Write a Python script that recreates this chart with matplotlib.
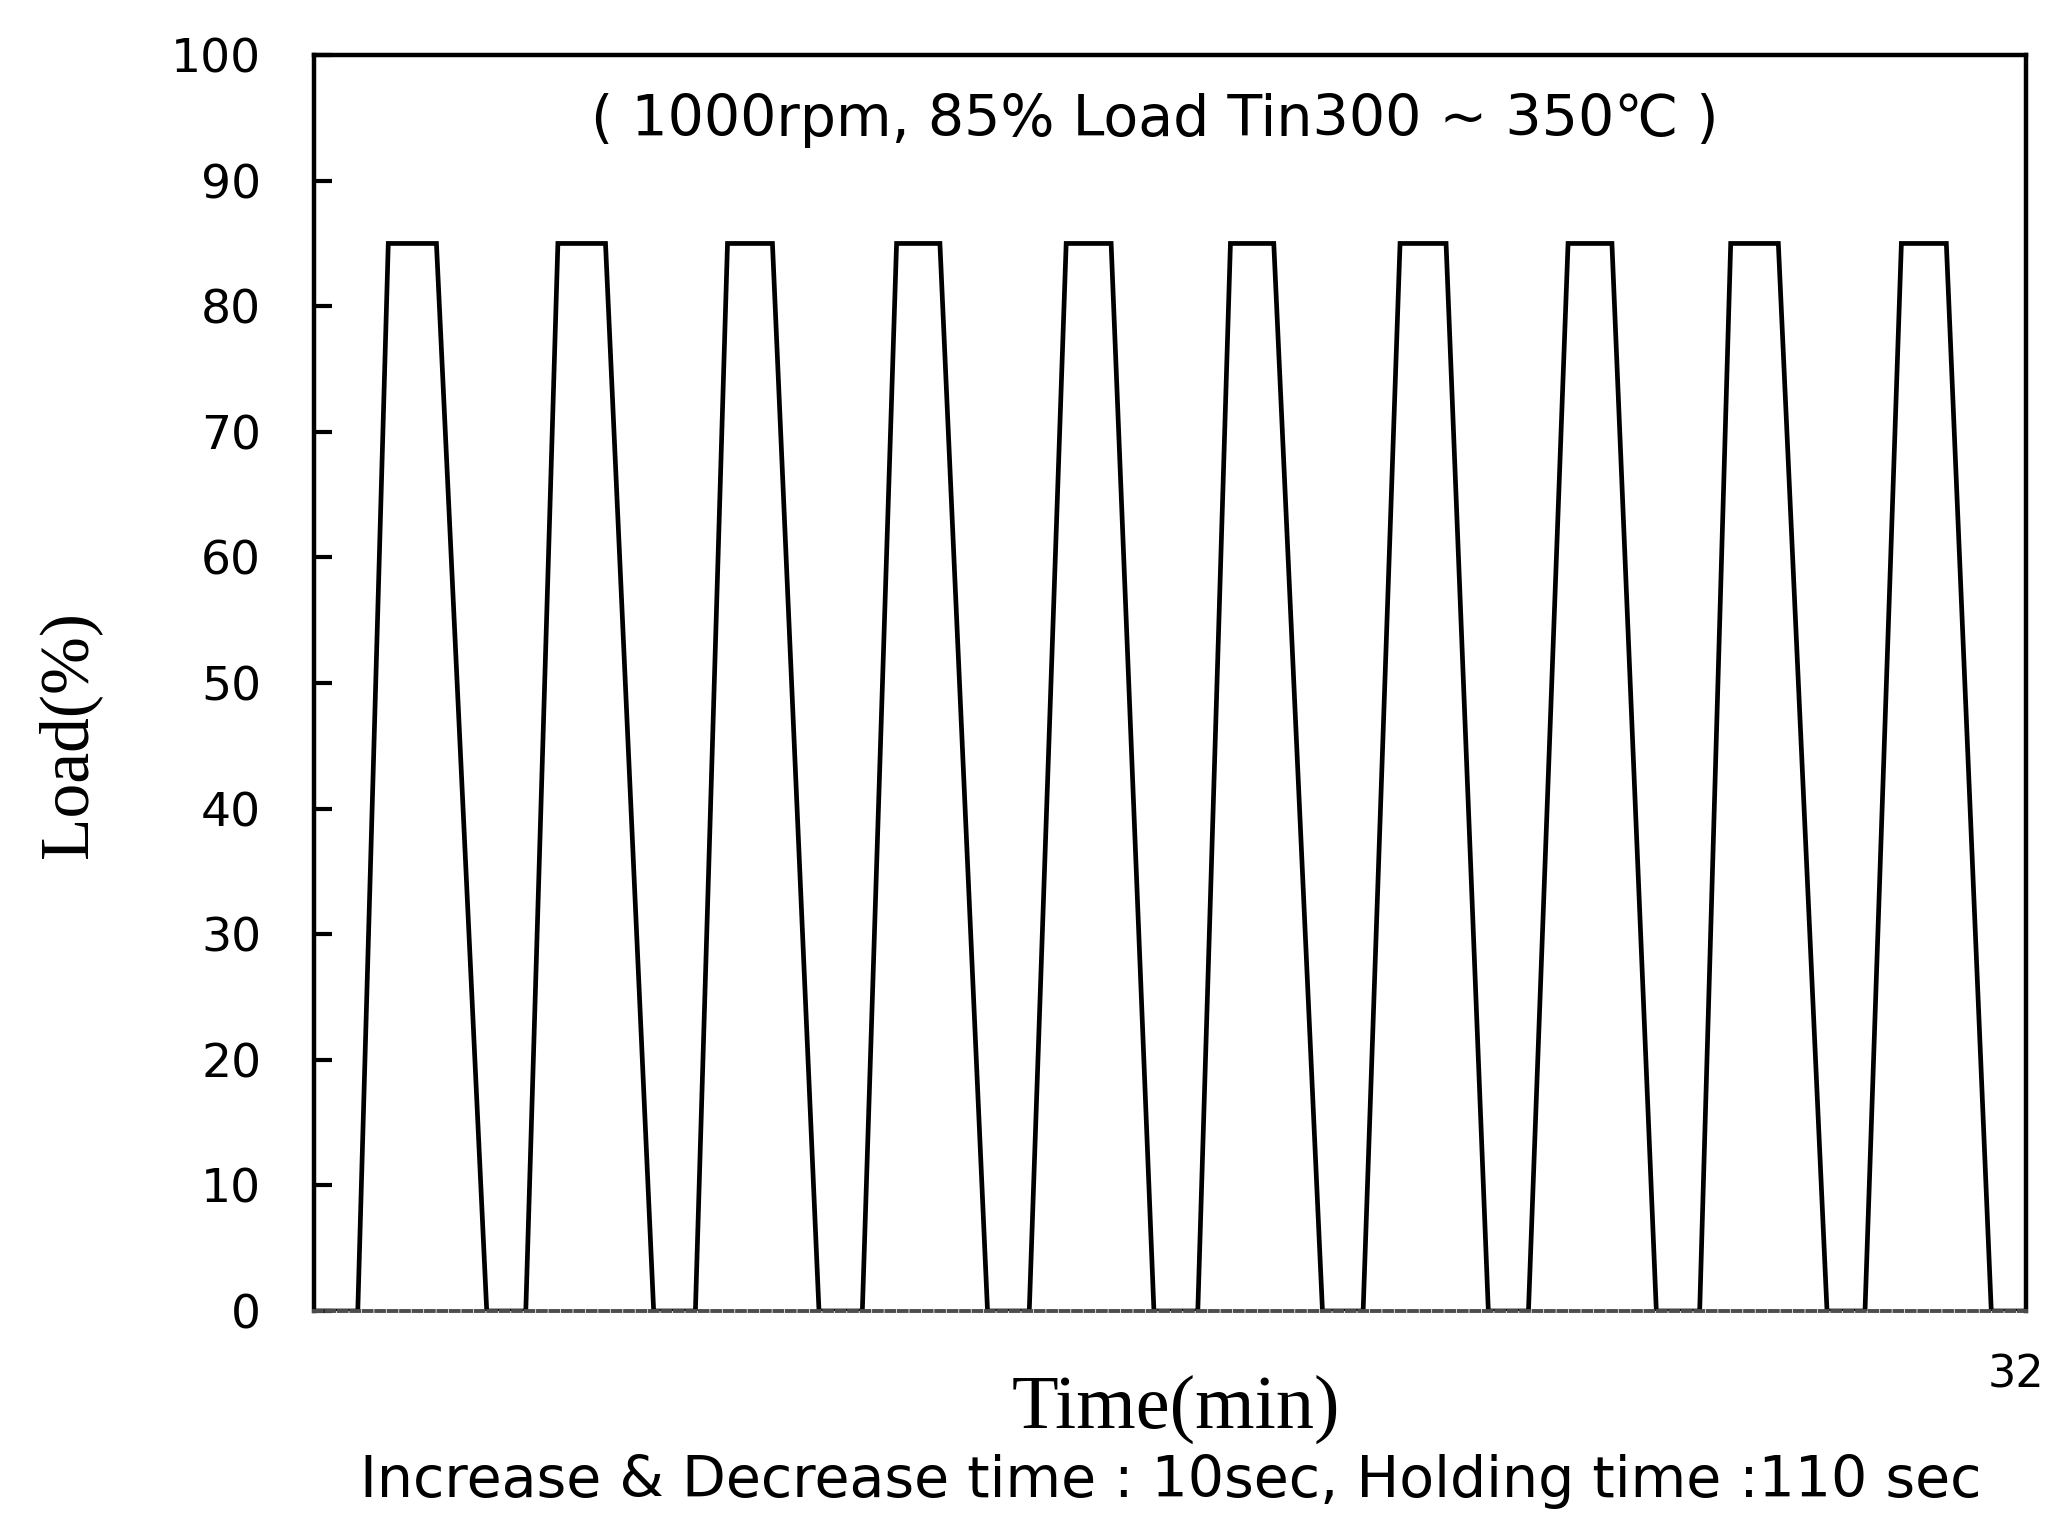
import matplotlib
matplotlib.use("Agg")
import matplotlib.pyplot as plt
import numpy as np

# ── data (time in min, load in %) ────────────────────────────────────────────────
peak_load = 85.0
t_end = 32.0
ramp_up_start = [0.82, 3.96, 7.13, 10.25, 13.37, 16.52, 19.61, 22.70, 25.90, 28.99]
hold_start = [1.39, 4.56, 7.73, 10.89, 14.06, 17.13, 20.30, 23.44, 26.48, 29.67]
hold_end = [2.29, 5.45, 8.57, 11.70, 14.90, 17.94, 21.16, 24.26, 27.37, 30.51]
ramp_down_end = [3.23, 6.35, 9.44, 12.59, 15.70, 18.85, 21.95, 25.09, 28.28, 31.35]
y_ticks = [0, 10, 20, 30, 40, 50, 60, 70, 80, 90, 100]

# polyline through the breakpoints of each pulse
t = [0.0]
y = [0.0]
for a, b, c, d in zip(ramp_up_start, hold_start, hold_end, ramp_down_end):
    t += [a, b, c, d]
    y += [0.0, peak_load, peak_load, 0.0]
t.append(t_end)
y.append(0.0)

SANS = ["DejaVu Sans"]
SERIF = ["Liberation Serif", "DejaVu Serif"]

fig = plt.figure(figsize=(20.49, 15.17), dpi=100)
ax = fig.add_axes([0.1532, 0.1358, 0.9888 - 0.1532, 0.9637 - 0.1358])

ax.plot(t, y, color="black", lw=3.4, solid_joinstyle="miter")

ax.set_xlim(0, t_end)
ax.set_ylim(0, 100)

ax.set_yticks(y_ticks)
ax.set_yticklabels([str(v) for v in y_ticks], fontsize=34, family=SANS)
ax.tick_params(axis="y", direction="in", length=13, width=3, pad=38, left=True, right=False)
ax.set_xticks([])

for side in ("left", "right", "top"):
    ax.spines[side].set_linewidth(3.2)
    ax.spines[side].set_color("black")
ax.spines["bottom"].set_linewidth(2.8)
ax.spines["bottom"].set_color("0.3")
ax.spines["bottom"].set_linestyle((0, (2, 1.2)))

ax.text(0.491, 0.948, "( 1000rpm, 85% Load Tin300 ~ 350\u2103 )",
        transform=ax.transAxes, ha="center", va="center", fontsize=41, family=SANS)

# end-of-axis time label, tucked against the right edge
fig.text(0.9975, 0.0936, f"{t_end:.0f}", ha="right", va="center", fontsize=32,
         family=["Liberation Sans Narrow", "DejaVu Sans"])

fig.text(0.0337, 0.5155, "Load(%)", rotation=90, ha="center", va="center",
         fontsize=50, family=SERIF)
fig.text(0.574, 0.0712, "Time(min)", ha="center", va="center", fontsize=55, family=SERIF)
fig.text(0.5715, 0.0237, "Increase & Decrease time : 10sec, Holding time :110 sec",
         ha="center", va="center", fontsize=41, family=SANS)

fig.savefig("out.png", dpi=100)
plt.close(fig)
